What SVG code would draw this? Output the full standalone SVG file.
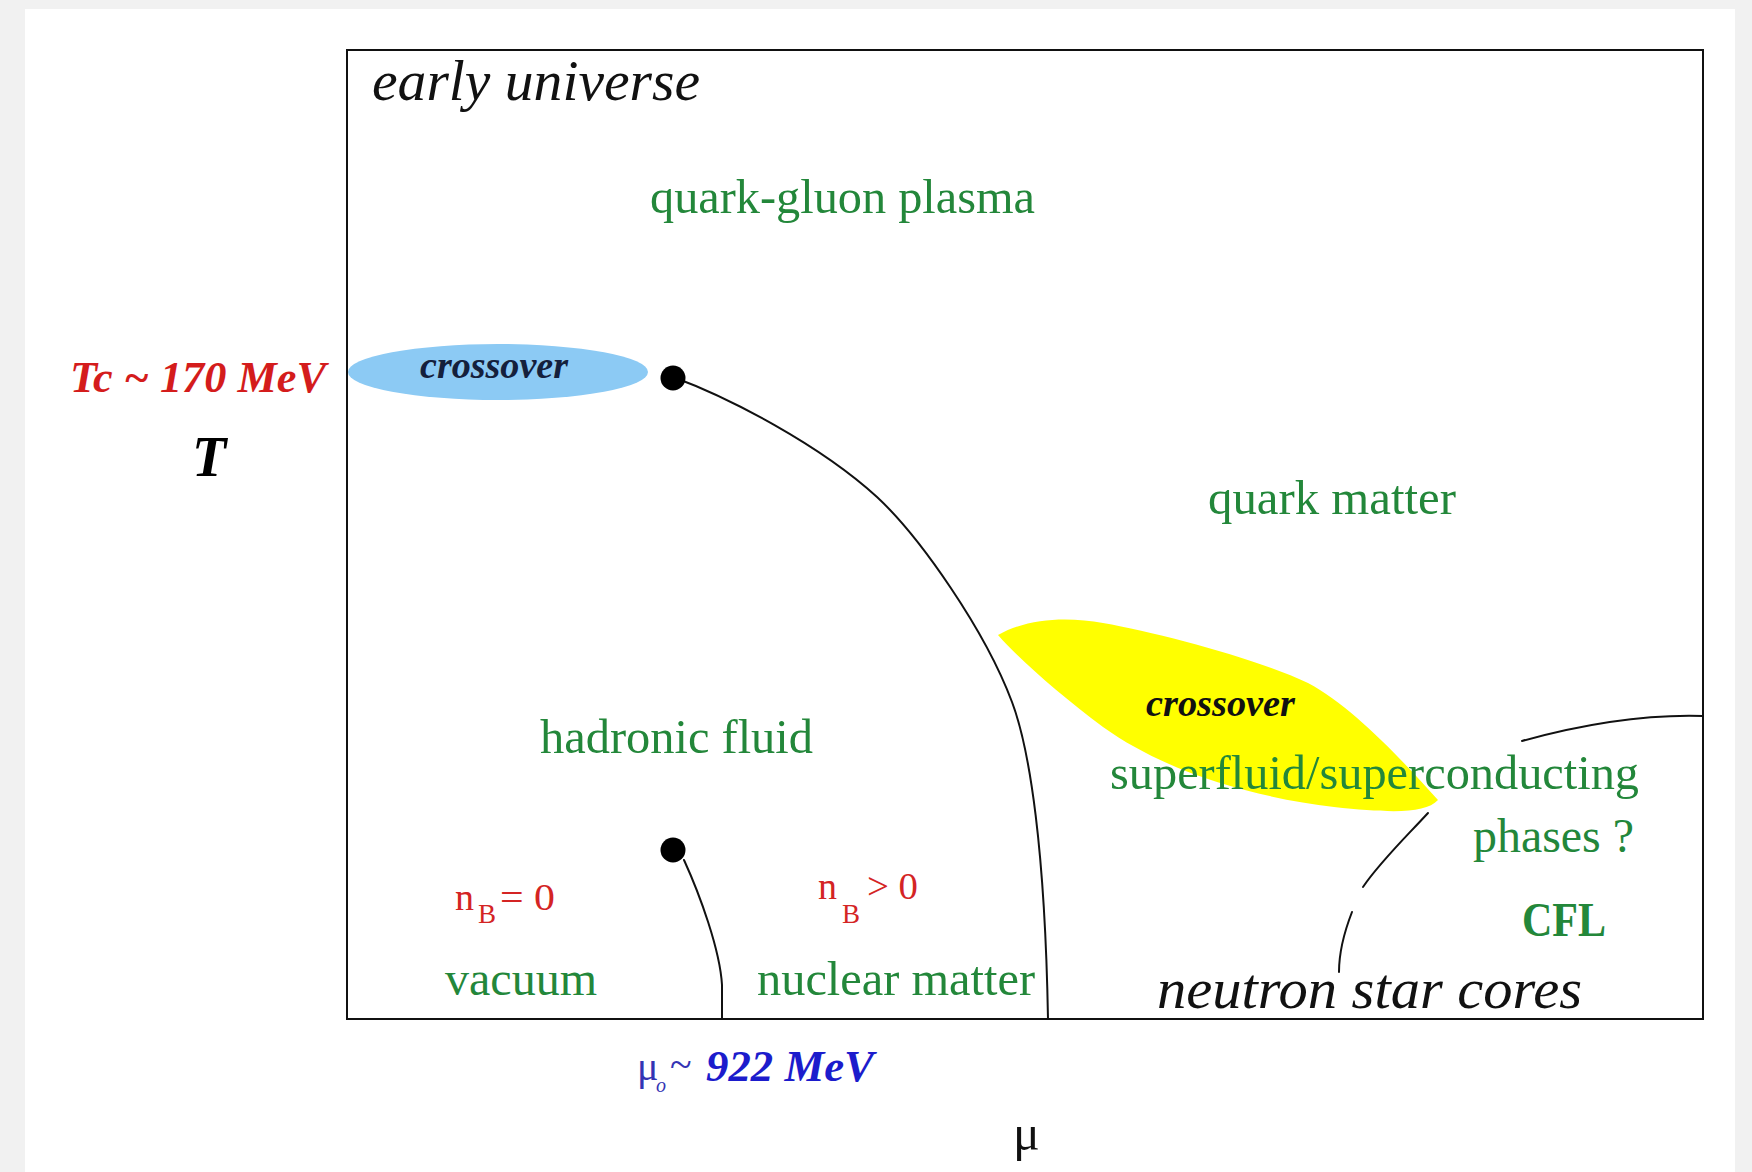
<svg xmlns="http://www.w3.org/2000/svg" width="1752" height="1172" viewBox="0 0 1752 1172">
<style>
.g{font-family:"Liberation Serif","Times New Roman",serif;fill:#23873a;font-size:48px}
.it{font-family:"Liberation Serif","Times New Roman",serif;font-style:italic;fill:#111}
.bi{font-family:"Liberation Serif","Times New Roman",serif;font-style:italic;font-weight:bold}
.red{font-family:"Liberation Serif","Times New Roman",serif;fill:#d42424}
.blu{font-family:"Liberation Serif","Times New Roman",serif;fill:#3434b4}
.ln{fill:none;stroke:#111;stroke-width:2;stroke-linejoin:round;stroke-linecap:round}
</style>
<rect x="0" y="0" width="1752" height="1172" fill="#f1f1f1"/>
<rect x="25" y="9" width="1710" height="1163" fill="#ffffff"/>
<g id="regions">
<ellipse id="crossover-low-mu" cx="498" cy="372" rx="150" ry="28" fill="#8ccaf4"/>
<path id="crossover-high-mu" d="M 998,635 C 1030,617 1070,617 1103,623 C 1160,633 1260,660 1308,683 C 1352,706 1402,760 1438,800 C 1425,814 1390,813 1334,807 C 1260,798 1170,775 1103,727 C 1060,695 1020,660 998,635 Z" fill="#ffff00"/>
</g>
<g id="frame"><rect x="347" y="50" width="1356" height="969" fill="none" stroke="#111" stroke-width="2"/></g>
<g id="connectors">
<path class="ln" d="M 673,377 C 730,398 820,445 877,497 C 920,537 985,630 1012,702 C 1030,750 1045,850 1048,1019"/>
<path class="ln" d="M 684,860 C 700,895 720,950 722,985 L 722,1019"/>
<path class="ln" d="M 1522,741 C 1580,725 1640,714 1703,716"/>
<path class="ln" d="M 1428,813 C 1405,838 1380,862 1363,887"/>
<path class="ln" d="M 1352,912 C 1345,930 1339,950 1339,972"/>
</g>
<g id="critical-point"><circle cx="673" cy="378" r="12.5" fill="#000"/></g>
<g id="nuclear-point"><circle cx="673" cy="850" r="12.5" fill="#000"/></g>
<g id="label-early-universe"><text class="it" x="372" y="100" font-size="58" textLength="328" lengthAdjust="spacingAndGlyphs">early universe</text></g>
<g id="label-qgp"><text class="g" x="650" y="213" textLength="385" lengthAdjust="spacingAndGlyphs">quark-gluon plasma</text></g>
<g id="label-quark-matter"><text class="g" x="1208" y="514" textLength="248" lengthAdjust="spacingAndGlyphs">quark matter</text></g>
<g id="label-hadronic"><text class="g" x="540" y="753" textLength="273" lengthAdjust="spacingAndGlyphs">hadronic fluid</text></g>
<g id="label-superfluid"><text class="g" x="1110" y="789" textLength="529" lengthAdjust="spacingAndGlyphs">superfluid/superconducting</text>
<text class="g" x="1473" y="852" textLength="161" lengthAdjust="spacingAndGlyphs">phases ?</text></g>
<g id="label-cfl"><text class="g" x="1522" y="936" font-size="42" font-weight="bold" textLength="84" lengthAdjust="spacingAndGlyphs">CFL</text></g>
<g id="label-vacuum"><text class="g" x="445" y="995" textLength="152" lengthAdjust="spacingAndGlyphs">vacuum</text></g>
<g id="label-nuclear"><text class="g" x="757" y="995" textLength="278" lengthAdjust="spacingAndGlyphs">nuclear matter</text></g>
<g id="label-ns"><text class="it" x="1157" y="1008" font-size="56" textLength="425" lengthAdjust="spacingAndGlyphs">neutron star cores</text></g>
<g id="label-crossover1"><text class="bi" x="420" y="378" font-size="38" fill="#14203c" textLength="148" lengthAdjust="spacingAndGlyphs">crossover</text></g>
<g id="label-crossover2"><text class="bi" x="1146" y="716" font-size="38" fill="#111" textLength="149" lengthAdjust="spacingAndGlyphs">crossover</text></g>
<g id="label-tc"><text class="bi" x="70" y="392" font-size="44" fill="#d41c1c" textLength="256" lengthAdjust="spacingAndGlyphs">Tc ~ 170 MeV</text></g>
<g id="label-T"><text class="bi" x="192" y="476" font-size="56" fill="#000">T</text></g>
<g id="label-nb0"><text class="red" x="455" y="910" font-size="38">n</text><text class="red" x="478" y="923" font-size="27">B</text><text class="red" x="500" y="910" font-size="38" textLength="55" lengthAdjust="spacingAndGlyphs">= 0</text></g>
<g id="label-nbpos"><text class="red" x="818" y="899" font-size="38">n</text><text class="red" x="842" y="923" font-size="27">B</text><text class="red" x="867" y="899" font-size="38" textLength="51" lengthAdjust="spacingAndGlyphs">&gt; 0</text></g>
<g id="label-mu0"><text class="blu" x="637" y="1080" font-size="40">μ</text><text class="blu" x="656" y="1092" font-style="italic" font-size="20">o</text><text class="blu" x="670" y="1078" font-size="40">~</text><text class="bi" x="706" y="1081" font-size="44" fill="#1c1ccc" textLength="168" lengthAdjust="spacingAndGlyphs">922 MeV</text></g>
<g id="label-mu"><text x="1013" y="1150" font-family="Liberation Serif, serif" font-size="50" fill="#111">μ</text></g>
</svg>
